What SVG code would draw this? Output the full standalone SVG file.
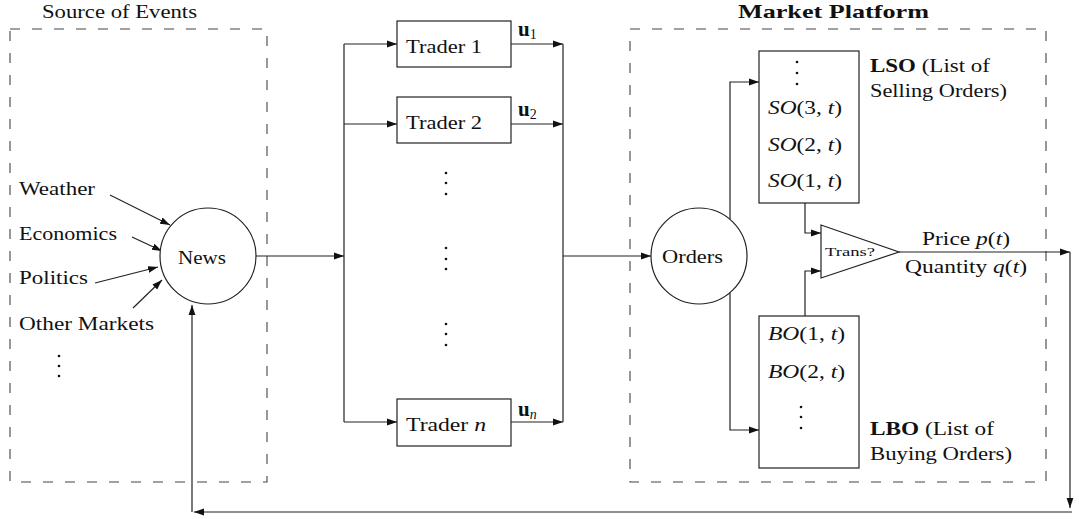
<svg xmlns="http://www.w3.org/2000/svg" width="1079" height="519" viewBox="0 0 1079 519">
<defs>
<marker id="arr" markerUnits="userSpaceOnUse" markerWidth="10" markerHeight="8" refX="10" refY="4" orient="auto">
<path d="M0,0.6 L10,4 L0,7.4 z" fill="#111"/>
</marker>
<style>
text{font-family:"Liberation Serif","Times New Roman",serif;font-size:19px;fill:#111}
.b{font-weight:bold}
.i{font-style:italic}
.u{font-weight:bold;font-size:21px}
.sub{font-weight:normal;font-size:14px}
.dash{fill:none;stroke:#444;stroke-width:1.1;stroke-dasharray:10 12}
.box{fill:#fff;stroke:#222;stroke-width:1.2}
.ln{fill:none;stroke:#222;stroke-width:1.2}
.arr{marker-end:url(#arr)}
.dot{fill:#111}
.small{font-size:12px}
</style>
</defs>
<rect width="1079" height="519" fill="#fff"/>

<g id="source-of-events">
<rect class="dash" x="10" y="29" width="257" height="453"/>
<text x="42" y="18" textLength="155" lengthAdjust="spacingAndGlyphs">Source of Events</text>
<text x="19" y="195" textLength="76" lengthAdjust="spacingAndGlyphs">Weather</text>
<text x="19" y="240" textLength="98" lengthAdjust="spacingAndGlyphs">Economics</text>
<text x="19" y="284" textLength="69" lengthAdjust="spacingAndGlyphs">Politics</text>
<text x="19" y="330" textLength="135" lengthAdjust="spacingAndGlyphs">Other Markets</text>
<circle class="dot" cx="59" cy="356" r="1.3"/>
<circle class="dot" cx="59" cy="366" r="1.3"/>
<circle class="dot" cx="59" cy="376" r="1.3"/>
</g>

<g id="market-platform">
<rect class="dash" x="630" y="29" width="416" height="453"/>
<text class="b" x="738" y="18" textLength="191" lengthAdjust="spacingAndGlyphs">Market Platform</text>
</g>

<g id="connectors">
<path class="ln arr" d="M110,195 L170,225"/>
<path class="ln arr" d="M132,237 L162,251"/>
<path class="ln arr" d="M95,283 L158,267"/>
<path class="ln arr" d="M133,308 L162,280"/>
<path class="ln arr" d="M256,256 H344"/>
<path class="ln" d="M344,44 V422"/>
<path class="ln arr" d="M344,44 H397"/>
<path class="ln arr" d="M344,124 H397"/>
<path class="ln arr" d="M344,422 H397"/>
<path class="ln arr" d="M511,44 H563"/>
<path class="ln arr" d="M511,124 H563"/>
<path class="ln arr" d="M511,422 H563"/>
<path class="ln" d="M563,44 V422"/>
<path class="ln arr" d="M563,256 H651"/>
<path class="ln arr" d="M730,219 V82 H759"/>
<path class="ln arr" d="M730,293 V430 H759"/>
<path class="ln arr" d="M805,203 V233 H821"/>
<path class="ln arr" d="M805,316 V271 H821"/>
<path class="ln arr" d="M899,252 H1070"/>
<path class="ln arr" d="M1070,252 V508"/>
<path class="ln arr" d="M1072,512 H194"/>
<path class="ln arr" d="M192,512 V305"/>
</g>

<g id="news">
<circle class="box" cx="208" cy="256" r="48"/>
<text x="178" y="264" textLength="48" lengthAdjust="spacingAndGlyphs">News</text>
</g>

<g id="trader-1">
<rect class="box" x="397" y="21" width="114" height="46"/>
<text x="406" y="53" textLength="76" lengthAdjust="spacingAndGlyphs">Trader 1</text>
<text class="u" x="518" y="36">u<tspan class="sub" dy="3">1</tspan></text>
</g>

<g id="trader-2">
<rect class="box" x="397" y="97" width="114" height="46"/>
<text x="406" y="129" textLength="76" lengthAdjust="spacingAndGlyphs">Trader 2</text>
<text class="u" x="518" y="116">u<tspan class="sub" dy="3">2</tspan></text>
</g>

<g id="trader-dots">
<circle class="dot" cx="446" cy="173" r="1.3"/>
<circle class="dot" cx="446" cy="183" r="1.3"/>
<circle class="dot" cx="446" cy="194" r="1.3"/>
<circle class="dot" cx="446" cy="248" r="1.3"/>
<circle class="dot" cx="446" cy="259" r="1.3"/>
<circle class="dot" cx="446" cy="269" r="1.3"/>
<circle class="dot" cx="446" cy="324" r="1.3"/>
<circle class="dot" cx="446" cy="334" r="1.3"/>
<circle class="dot" cx="446" cy="345" r="1.3"/>
</g>

<g id="trader-n">
<rect class="box" x="397" y="399" width="114" height="47"/>
<text x="406" y="431" textLength="80" lengthAdjust="spacingAndGlyphs">Trader <tspan class="i">n</tspan></text>
<text class="u" x="518" y="416">u<tspan class="sub i" dy="3">n</tspan></text>
</g>

<g id="orders">
<circle class="box" cx="699" cy="256" r="48"/>
<text x="662" y="263" textLength="61" lengthAdjust="spacingAndGlyphs">Orders</text>
</g>

<g id="lso">
<rect class="box" x="759" y="51" width="100" height="152"/>
<circle class="dot" cx="797" cy="62" r="1.3"/>
<circle class="dot" cx="797" cy="73" r="1.3"/>
<circle class="dot" cx="797" cy="84" r="1.3"/>
<text x="768" y="114" textLength="74" lengthAdjust="spacingAndGlyphs"><tspan class="i">SO</tspan>(3, <tspan class="i">t</tspan>)</text>
<text x="768" y="151" textLength="74" lengthAdjust="spacingAndGlyphs"><tspan class="i">SO</tspan>(2, <tspan class="i">t</tspan>)</text>
<text x="768" y="187" textLength="74" lengthAdjust="spacingAndGlyphs"><tspan class="i">SO</tspan>(1, <tspan class="i">t</tspan>)</text>
<text x="870" y="72" textLength="120" lengthAdjust="spacingAndGlyphs"><tspan class="b">LSO</tspan> (List of</text>
<text x="870" y="97" textLength="137" lengthAdjust="spacingAndGlyphs">Selling Orders)</text>
</g>

<g id="lbo">
<rect class="box" x="759" y="316" width="100" height="152"/>
<text x="768" y="340" textLength="77" lengthAdjust="spacingAndGlyphs"><tspan class="i">BO</tspan>(1, <tspan class="i">t</tspan>)</text>
<text x="768" y="378" textLength="77" lengthAdjust="spacingAndGlyphs"><tspan class="i">BO</tspan>(2, <tspan class="i">t</tspan>)</text>
<circle class="dot" cx="801" cy="407" r="1.3"/>
<circle class="dot" cx="801" cy="417" r="1.3"/>
<circle class="dot" cx="801" cy="428" r="1.3"/>
<text x="870" y="435" textLength="124" lengthAdjust="spacingAndGlyphs"><tspan class="b">LBO</tspan> (List of</text>
<text x="870" y="460" textLength="142" lengthAdjust="spacingAndGlyphs">Buying Orders)</text>
</g>

<g id="transaction">
<polygon class="box" points="821,225 821,278 899,252"/>
<text class="small" x="825" y="256" textLength="50" lengthAdjust="spacingAndGlyphs">Trans?</text>
</g>

<g id="output-labels">
<text x="922" y="245" textLength="88" lengthAdjust="spacingAndGlyphs">Price <tspan class="i">p</tspan>(<tspan class="i">t</tspan>)</text>
<text x="905" y="273" textLength="122" lengthAdjust="spacingAndGlyphs">Quantity <tspan class="i">q</tspan>(<tspan class="i">t</tspan>)</text>
</g>
</svg>
